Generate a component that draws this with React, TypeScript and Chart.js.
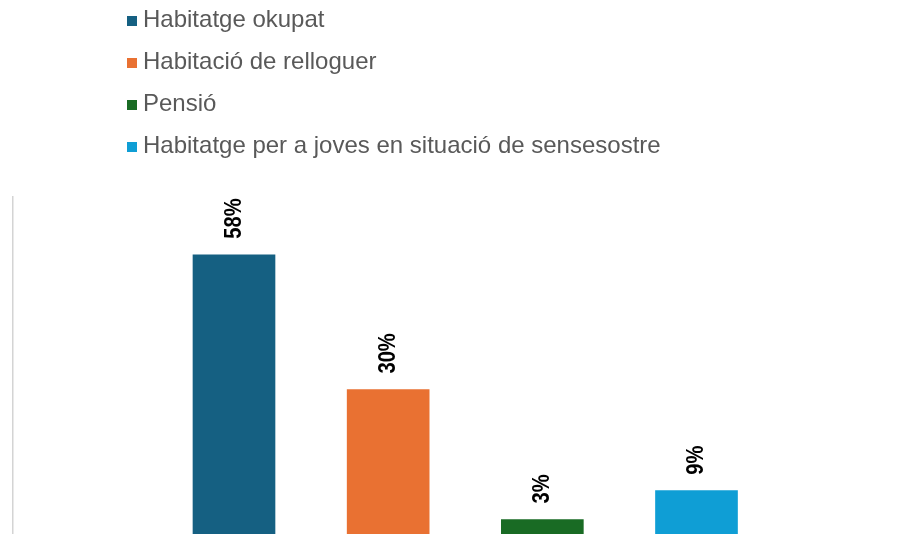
import React, { useEffect, useRef } from "react";
import { Chart, registerables } from "chart.js";

Chart.register(...registerables);

const categories = [
  "Habitatge okupat",
  "Habitació de relloguer",
  "Pensió",
  "Habitatge per a joves en situació de sensesostre",
];
const values = [58, 30, 3, 9];
const valueLabels = ["58%", "30%", "3%", "9%"];
const colors = ["#156082", "#E97132", "#196B24", "#0F9ED5"];
const yMin = 0;
const yMax = 70;

const legendPlugin = {
  id: "verticalLegend",
  afterDraw(chart: any) {
    const ctx = chart.ctx;
    ctx.save();
    ctx.font = '24px "Liberation Sans", Arial, sans-serif';
    ctx.textBaseline = "middle";
    ctx.textAlign = "left";
    chart.data.datasets.forEach((ds: any, i: number) => {
      const y = 20 + 42 * i;
      ctx.fillStyle = ds.backgroundColor;
      ctx.fillRect(127, y - 4, 10, 10);
      ctx.fillStyle = "#595959";
      ctx.fillText(ds.label, 143, y);
    });
    ctx.restore();
  },
};

const valueLabelPlugin = {
  id: "valueLabels",
  afterDatasetsDraw(chart: any) {
    const ctx = chart.ctx;
    chart.data.datasets.forEach((ds: any, i: number) => {
      const meta = chart.getDatasetMeta(i);
      meta.data.forEach((bar: any) => {
        const { x, y } = bar.getProps(["x", "y"], true);
        ctx.save();
        ctx.translate(x, y - 16);
        ctx.rotate(-Math.PI / 2);
        ctx.scale(0.84, 1);
        ctx.font = 'bold 24px "Liberation Sans", Arial, sans-serif';
        ctx.fillStyle = "#000000";
        ctx.textAlign = "left";
        ctx.textBaseline = "middle";
        ctx.fillText(valueLabels[i], 0, 0);
        ctx.restore();
      });
    });
  },
};

export default function App() {
  const canvasRef = useRef<HTMLCanvasElement | null>(null);

  useEffect(() => {
    if (!canvasRef.current) return;
    const chart = new Chart(canvasRef.current, {
      type: "bar",
      data: {
        datasets: categories.map((label, i) => ({
          label,
          data: [{ x: i + 1, y: values[i] }],
          backgroundColor: colors[i],
          borderWidth: 0,
          barThickness: 82,
        })),
      },
      options: {
        animation: false,
        responsive: true,
        maintainAspectRatio: false,
        layout: { padding: { top: 197, left: 13, right: 0, bottom: 0 } },
        plugins: {
          legend: { display: false },
          tooltip: { enabled: false },
        },
        scales: {
          x: {
            type: "linear",
            stacked: true,
            display: false,
            min: -0.4335,
            max: 5.3265,
            afterBuildTicks: (s: any) => {
              s.ticks = [];
            },
          },
          y: {
            stacked: true,
            min: yMin,
            max: yMax,
            ticks: { display: false },
            grid: { display: false, drawTicks: false },
            border: { display: true, color: "#d4d4d4", width: 1.5 },
          },
        },
      } as any,
      plugins: [legendPlugin, valueLabelPlugin],
    });
    return () => chart.destroy();
  }, []);

  return (
    <div style={{ position: "absolute", left: 0, top: 0, width: 901, height: 534, background: "#ffffff" }}>
      <canvas ref={canvasRef} />
    </div>
  );
}
